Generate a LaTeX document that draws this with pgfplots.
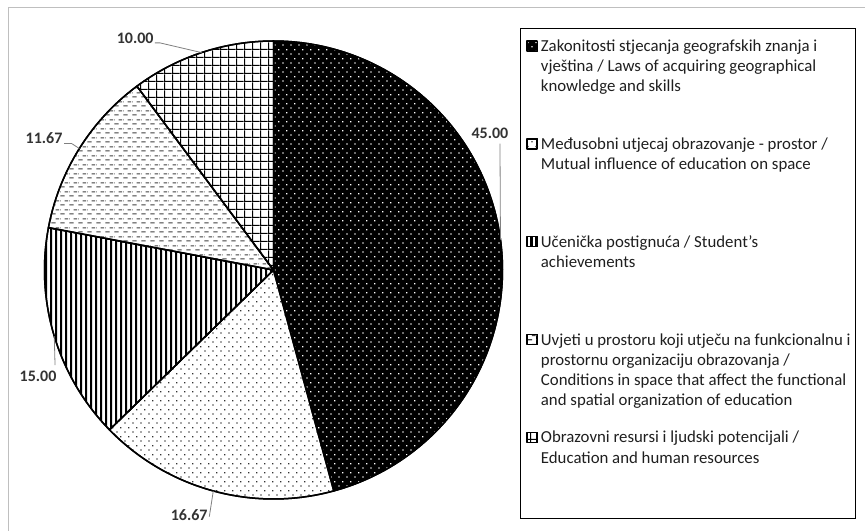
\documentclass[border=0pt]{standalone}
\usepackage{fontspec}
\setmainfont{Carlito}
\usepackage{pgfplots}
\usepackage{pgfplotstable}
\pgfplotsset{compat=1.18}
\usetikzlibrary{patterns}

\pgfdeclarepatternformonly{stagdots}{\pgfqpoint{0bp}{0bp}}{\pgfqpoint{8.3bp}{8.6bp}}{\pgfqpoint{8.3bp}{8.6bp}}{%
  \pgfpathrectangle{\pgfqpoint{1.5bp}{1.5bp}}{\pgfqpoint{1.3bp}{1.3bp}}%
  \pgfpathrectangle{\pgfqpoint{5.65bp}{5.8bp}}{\pgfqpoint{1.3bp}{1.3bp}}%
  \pgfusepath{fill}}
\pgfdeclarepatternformonly{vlines}{\pgfqpoint{0bp}{0bp}}{\pgfqpoint{5bp}{60bp}}{\pgfqpoint{5bp}{60bp}}{%
  \pgfpathrectangle{\pgfqpoint{0bp}{-1bp}}{\pgfqpoint{2.5bp}{62bp}}\pgfusepath{fill}}
\pgfdeclarepatternformonly{hdash}{\pgfqpoint{0bp}{0bp}}{\pgfqpoint{8.5bp}{9bp}}{\pgfqpoint{8.5bp}{9bp}}{%
  \pgfpathrectangle{\pgfqpoint{0.5bp}{1.75bp}}{\pgfqpoint{4.5bp}{1.2bp}}%
  \pgfpathrectangle{\pgfqpoint{4.75bp}{6.25bp}}{\pgfqpoint{3.75bp}{1.2bp}}%
  \pgfpathrectangle{\pgfqpoint{0bp}{6.25bp}}{\pgfqpoint{0.75bp}{1.2bp}}%
  \pgfusepath{fill}}
\pgfdeclarepatternformonly{grideight}{\pgfqpoint{0bp}{0bp}}{\pgfqpoint{8.3bp}{8.3bp}}{\pgfqpoint{8.3bp}{8.3bp}}{%
  \pgfpathrectangle{\pgfqpoint{0bp}{0bp}}{\pgfqpoint{8.3bp}{1.3bp}}%
  \pgfpathrectangle{\pgfqpoint{0bp}{0bp}}{\pgfqpoint{1.3bp}{8.3bp}}%
  \pgfusepath{fill}}

\pgfplotstableread{
value
45.00
16.67
15.00
11.67
10.00
}\piedata

\newcommand{\legtext}[1]{\parbox[t]{314bp}{\raggedright\rule{0pt}{22.4bp}#1}}

\begin{document}
\begin{tikzpicture}
\fill[white] (0bp,0bp) rectangle (865bp,531bp);
\draw[black!25, line width=1bp] (8bp,0bp) -- (8bp,523bp) -- (865bp,523bp);

\pgfplotstablegetelem{0}{value}\of\piedata \pgfmathsetmacro\vA{\pgfplotsretval}
\pgfplotstablegetelem{1}{value}\of\piedata \pgfmathsetmacro\vB{\pgfplotsretval}
\pgfplotstablegetelem{2}{value}\of\piedata \pgfmathsetmacro\vC{\pgfplotsretval}
\pgfplotstablegetelem{3}{value}\of\piedata \pgfmathsetmacro\vD{\pgfplotsretval}
\pgfplotstablegetelem{4}{value}\of\piedata \pgfmathsetmacro\vE{\pgfplotsretval}
\pgfmathsetmacro\tot{\vA+\vB+\vC+\vD+\vE}
\pgfmathsetmacro\aA{90-360*\vA/\tot}
\pgfmathsetmacro\aB{\aA-360*\vB/\tot}
\pgfmathsetmacro\aC{\aB-360*\vC/\tot}
\pgfmathsetmacro\aD{\aC-360*\vD/\tot}
\pgfmathsetmacro\aE{\aD-360*\vE/\tot}
\pgfmathsetmacro\mA{(90+\aA)/2}
\pgfmathsetmacro\mB{(\aA+\aB)/2}
\pgfmathsetmacro\mC{(\aB+\aC)/2}
\pgfmathsetmacro\mD{(\aC+\aD)/2}
\pgfmathsetmacro\mE{(\aD+\aE)/2}

\begin{axis}[
  at={(44.5bp,32bp)}, anchor=south west,
  scale only axis, width=458bp, height=458bp,
  xmin=-1, xmax=1, ymin=-1, ymax=1,
  hide axis, clip=false,
  legend cell align=left,
  legend image code/.code={%
    \path (0bp,0bp) (19bp,0bp);
    \draw[#1, line width=0.8bp] (6bp,0.4bp) rectangle ++(10bp,10bp);},
  legend style={at={(1.0382,1.0273)}, anchor=north west,
    draw=black, line width=0.9bp, inner xsep=0pt, inner ysep=0pt,
    column sep=0pt, row sep=0pt,
    cells={anchor=base west},
    font=\fontsize{16.8bp}{20.3bp}\selectfont\color{black!88},
    nodes={inner xsep=0pt, inner ysep=0pt, text height=22.4bp, text depth=75.5bp}},
  pie/.style={draw=black, line width=1.5bp, line join=round, samples=120, variable=\t},
]
\addplot[pie, preaction={fill=black}, pattern=stagdots, pattern color=white, domain=\aA:90]
  ({cos(\t)},{sin(\t)}) -- (axis cs:0,0) -- cycle;
\addlegendentry{\legtext{Zakonitosti stjecanja geografskih znanja i\newline vještina / Laws of acquiring geographical\newline knowledge and skills}}
\addplot[pie, preaction={fill=white}, pattern=stagdots, pattern color=black!80, domain=\aB:\aA]
  ({cos(\t)},{sin(\t)}) -- (axis cs:0,0) -- cycle;
\addlegendentry{\legtext{Međusobni utjecaj obrazovanje - prostor /\newline Mutual influence of education on space}}
\addplot[pie, preaction={fill=white}, pattern=vlines, pattern color=black, domain=\aC:\aB]
  ({cos(\t)},{sin(\t)}) -- (axis cs:0,0) -- cycle;
\addlegendentry{\legtext{Učenička postignuća / Student’s\newline achievements}}
\addplot[pie, preaction={fill=white}, pattern=hdash, pattern color=black!75, domain=\aD:\aC]
  ({cos(\t)},{sin(\t)}) -- (axis cs:0,0) -- cycle;
\addlegendentry{\legtext{Uvjeti u prostoru koji utječu na funkcionalnu i\newline prostornu organizaciju obrazovanja /\newline Conditions in space that affect the functional\newline and spatial organization of education}}
\addplot[pie, preaction={fill=white}, pattern=grideight, pattern color=black, domain=\aE:\aD]
  ({cos(\t)},{sin(\t)}) -- (axis cs:0,0) -- cycle;
\addlegendentry{\legtext{Obrazovni resursi i ljudski potencijali /\newline Education and human resources}}

% data labels with leader lines
\tikzset{lbl/.style={font=\fontsize{16bp}{19bp}\selectfont\bfseries, text=black!80, inner sep=0pt},
         ldr/.style={draw=black!50, line width=0.8bp}}
\pgfkeys{/pgf/number format/.cd, fixed, fixed zerofill, precision=2, assume math mode=true}
\draw[ldr] (axis cs:0.989,0.552) -- (axis cs:{cos(\mA)},{sin(\mA)});
\node[lbl] at (axis cs:0.945,0.5965) {\pgfmathprintnumber{\vA}};
\draw[ldr] (axis cs:-0.2803,-1.0773) -- (axis cs:{cos(\mB)},{sin(\mB)});
\node[lbl] at (axis cs:-0.3680,-1.0699) {\pgfmathprintnumber{\vB}};
\draw[ldr] (axis cs:-0.954,-0.415) -- (axis cs:{cos(\mC)},{sin(\mC)});
\node[lbl] at (axis cs:-1.028,-0.4629) {\pgfmathprintnumber{\vC}};
\draw[ldr] (axis cs:-0.9148,0.552) -- (axis cs:-0.881,0.552) -- (axis cs:{cos(\mD)},{sin(\mD)});
\node[lbl] at (axis cs:-1.002,0.5742) {\pgfmathprintnumber{\vD}};
\draw[ldr] (axis cs:-0.5175,0.9917) -- (axis cs:-0.4956,0.9917) -- (axis cs:{cos(\mE)},{sin(\mE)});
\node[lbl] at (axis cs:-0.604,1.0122) {\pgfmathprintnumber{\vE}};
\end{axis}
\pgfresetboundingbox
\path (0bp,0bp) rectangle (865bp,531bp);
\end{tikzpicture}
\end{document}
